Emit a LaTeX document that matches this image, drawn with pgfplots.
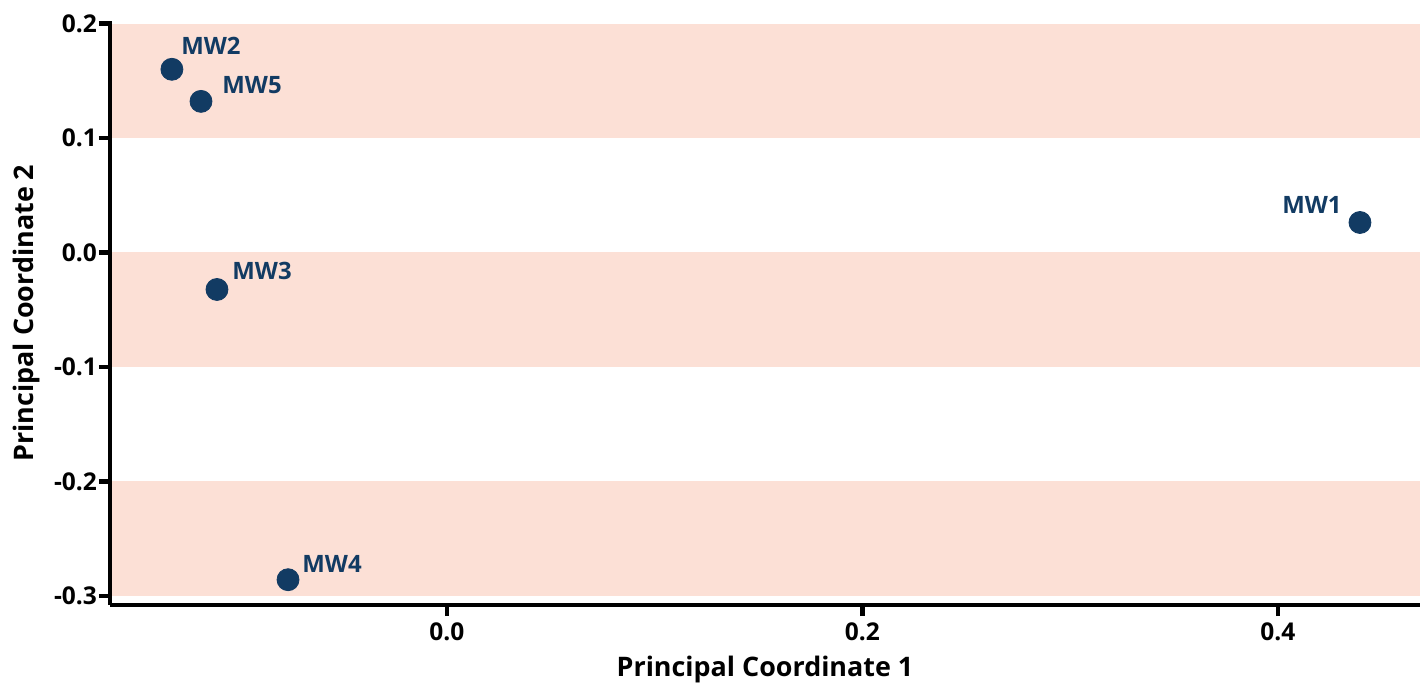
\documentclass[border=0pt]{standalone}
\usepackage{fontspec}
\setmainfont{Open Sans}
\usepackage{pgfplots}
\pgfplotsset{compat=1.18}
\usetikzlibrary{calc}
\definecolor{band}{HTML}{FCE0D6}
\definecolor{pt}{HTML}{123B63}
\begin{document}
\begin{tikzpicture}[x=1bp,y=1bp]
\begin{axis}[
  name=ax,
  scale only axis, width=655bp, height=292bp,
  xmin=-0.1622, xmax=0.4684, ymin=-0.3079, ymax=0.2022,
  axis x line*=bottom, axis y line*=left,
  axis line style={line width=2.3bp, -},
  axis on top,
  xtick={0,0.2,0.4}, ytick={-0.3,-0.2,-0.1,0,0.1,0.2},
  xtick pos=bottom, ytick pos=left,
  xtick align=outside, ytick align=outside,
  xticklabel style={/pgf/number format/.cd,fixed,fixed zerofill,precision=1},
  yticklabel style={xshift=2.5bp,/pgf/number format/.cd,fixed,fixed zerofill,precision=1},
  /pgf/number format/assume math mode=true,
  major tick style={line width=2.2bp, black},
  major tick length=5.5bp,
  ticklabel style={font=\fontsize{12.3}{14}\selectfont\bfseries},
  xlabel={Principal Coordinate 1}, ylabel={Principal Coordinate 2},
  label style={font=\fontsize{13.5}{15}\selectfont\bfseries},
  xlabel style={yshift=-0.5bp},
  ylabel style={yshift=0bp},
  clip=false,
]
\addplot[fill=band, draw=none] coordinates {(-0.1622,0.1) (0.4684,0.1) (0.4684,0.2) (-0.1622,0.2)} -- cycle;
\addplot[fill=band, draw=none] coordinates {(-0.1622,-0.1) (0.4684,-0.1) (0.4684,0) (-0.1622,0)} -- cycle;
\addplot[fill=band, draw=none] coordinates {(-0.1622,-0.3) (0.4684,-0.3) (0.4684,-0.2) (-0.1622,-0.2)} -- cycle;
\addplot[only marks, mark=*, mark size=5.5bp, pt, mark options={draw=pt, fill=pt}] coordinates {
  (0.4395,0.0262) (-0.1324,0.160) (-0.1107,-0.0323) (-0.0765,-0.2858) (-0.1184,0.132)
};
\begin{scope}[every node/.style={font=\fontsize{12}{14}\selectfont\bfseries, text=pt, inner sep=0pt}]
\node[anchor=base west, xshift=4.5bp, yshift=7.5bp] at (axis cs:-0.1324,0.160) {MW2};
\node[anchor=base west, xshift=10.5bp, yshift=4bp] at (axis cs:-0.1184,0.132) {MW5};
\node[anchor=base west, xshift=7.5bp, yshift=5bp] at (axis cs:-0.1107,-0.0323) {MW3};
\node[anchor=base west, xshift=7bp, yshift=3.5bp] at (axis cs:-0.0765,-0.2858) {MW4};
\node[anchor=base east, xshift=-9bp, yshift=4.5bp] at (axis cs:0.4395,0.0262) {MW1};
\end{scope}
\end{axis}
\pgfresetboundingbox
\path ($(ax.south west)+(-55bp,-39.5bp)$) rectangle ($(ax.north east)+(3bp,10.5bp)$);
\end{tikzpicture}
\end{document}
